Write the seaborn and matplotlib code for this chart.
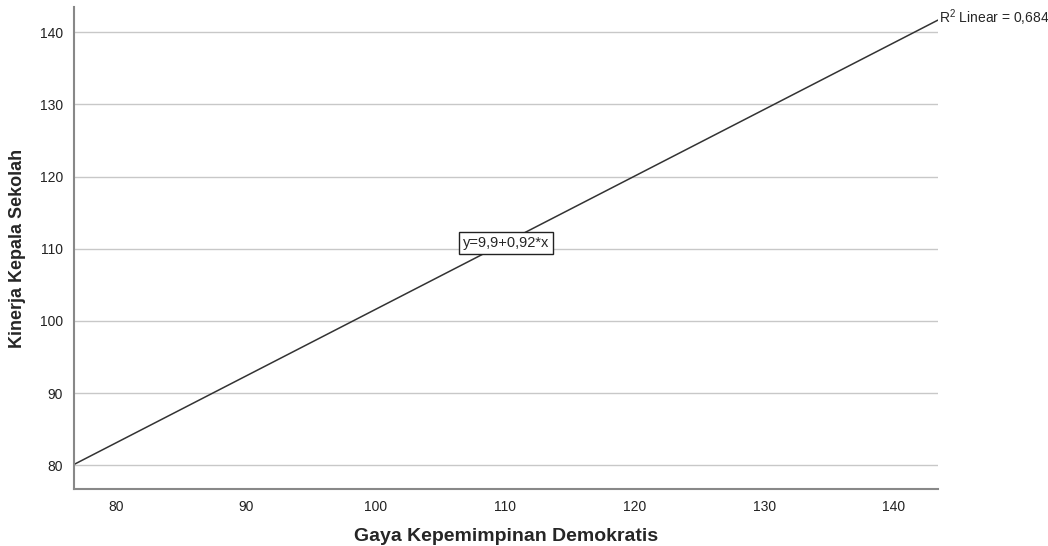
import matplotlib
matplotlib.use("Agg")
import matplotlib.pyplot as plt
import seaborn as sns
import pandas as pd

# fitted line endpoints
x_vals = [76.76, 143.4]
y_vals = [80.1, 141.7]
x_ticks = [80, 90, 100, 110, 120, 130, 140]
y_ticks = [80, 90, 100, 110, 120, 130, 140]
equation = "y=9,9+0,92*x"
r2_label = "R$^2$ Linear = 0,684"

sns.set_style("white")
plt.rcParams['font.family'] = ['Liberation Sans', 'DejaVu Sans']
plt.rcParams['mathtext.fontset'] = 'custom'
plt.rcParams['mathtext.rm'] = 'Liberation Sans'

df = pd.DataFrame({"x": x_vals, "y": y_vals})

fig = plt.figure(figsize=(10.48, 5.46), dpi=100)
ax = fig.add_axes([0.0706, 0.1044, 0.8244, 0.8826])

ax.set_xlim(76.76, 143.4)
ax.set_ylim(76.7, 143.5)
ax.set_xticks(x_ticks)
ax.set_yticks(y_ticks)
ax.yaxis.grid(True, color='#c8c8c8', linewidth=1.0)
ax.set_axisbelow(True)

sns.lineplot(data=df, x="x", y="y", ax=ax, color='#333333', linewidth=1.1)

for s in ['top', 'right']:
    ax.spines[s].set_visible(False)
for s in ['left', 'bottom']:
    ax.spines[s].set_color('#888888')
    ax.spines[s].set_linewidth(1.5)
ax.tick_params(length=0, labelsize=10, colors='#222222', pad=8)

ax.set_xlabel("Gaya Kepemimpinan Demokratis", fontsize=14, fontweight='bold', labelpad=10)
ax.set_ylabel("Kinerja Kepala Sekolah", fontsize=13, fontweight='bold', labelpad=10)

ax.text(110.1, 110.8, equation, fontsize=10.5, ha='center', va='center',
        bbox=dict(boxstyle='square,pad=0.25', facecolor='white', edgecolor='#222222', linewidth=1))
fig.text(0.896, 1 - 18 / 546, r2_label, fontsize=10, ha='left', va='center')

plt.savefig('out.png', dpi=100)
